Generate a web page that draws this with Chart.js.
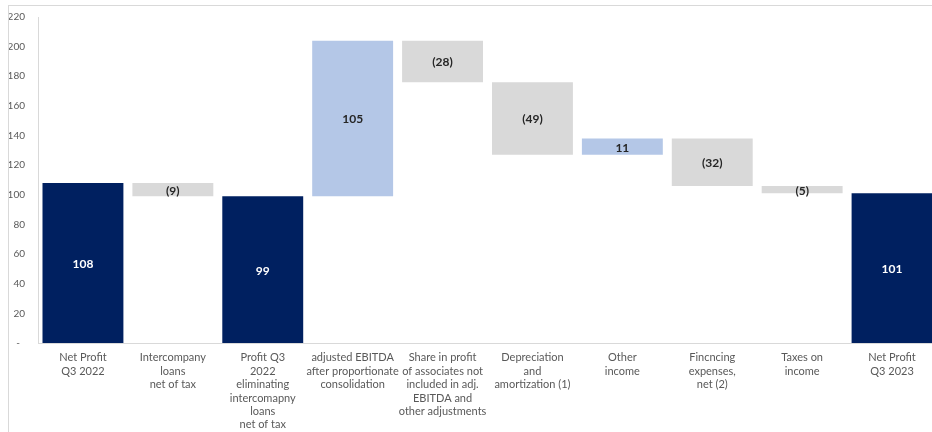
<!DOCTYPE html>
<html>
<head>
<meta charset="utf-8">
<script src="https://cdn.jsdelivr.net/npm/chart.js@4.4.0/dist/chart.umd.min.js"></script>
<style>
	html, body { margin: 0; padding: 0; background: #fff; overflow: hidden; }
	#frame {
		position: absolute;
		left: 8px;
		top: 5px;
		width: 930px;
		height: 426px;
		border-left: 1px solid #d9d9d9;
		border-top: 1px solid #d9d9d9;
	}
	#bridge { display: block; }
</style>
</head>
<body>
<div id="frame"><canvas id="bridge" width="930" height="426"></canvas></div>
<script>
var categories = [
	["Net Profit", "Q3 2022"],
	["Intercompany", "loans", "net of tax"],
	["Profit Q3", "2022", "eliminating", "intercomapny", "loans", "net of tax"],
	["adjusted EBITDA", "after proportionate", "consolidation"],
	["Share in profit", "of associates not", "included in adj.", "EBITDA and", "other adjustments"],
	["Depreciation", "and", "amortization (1)"],
	["Other", "income"],
	["Fincncing", "expenses,", "net (2)"],
	["Taxes on", "income"],
	["Net Profit", "Q3 2023"]
];
var changes = [108, -9, 99, 105, -28, -49, 11, -32, -5, 101];
var kinds = ["total", "step", "total", "step", "step", "step", "step", "step", "step", "total"];
var yTicks = [0, 20, 40, 60, 80, 100, 120, 140, 160, 180, 200, 220];

var colors = { total: '#002060', up: '#b4c7e7', down: '#d9d9d9' };

// turn the changes into floating [from, to] ranges
var ranges = [];
var fills = [];
var running = 0;
for (var i = 0; i < changes.length; i++) {
	if (kinds[i] == "total") {
		ranges.push([0, changes[i]]);
		running = changes[i];
		fills.push(colors.total);
	} else {
		ranges.push([running, running + changes[i]]);
		running += changes[i];
		fills.push(changes[i] < 0 ? colors.down : colors.up);
	}
}

function valueText(v) {
	return v < 0 ? "(" + Math.abs(v) + ")" : String(v);
}

// write each value in the middle of its bar
var barLabels = {
	id: 'barLabels',
	afterDatasetsDraw: function(chart) {
		var ctx = chart.ctx;
		var meta = chart.getDatasetMeta(0);
		ctx.save();
		ctx.font = 'bold 12px Lato';
		ctx.textAlign = 'center';
		ctx.textBaseline = 'middle';
		meta.data.forEach(function(bar, i) {
			ctx.fillStyle = kinds[i] == "total" ? '#ffffff' : '#262626';
			ctx.fillText(valueText(changes[i]), bar.x, (bar.y + bar.base) / 2 + 1);
		});
		ctx.restore();
	}
};

var bridge = document.getElementById("bridge").getContext('2d');
var bridgeChart = new Chart(bridge, {
	type: 'bar',
	data: {
		labels: categories,
		datasets: [{
			data: ranges,
			backgroundColor: fills,
			borderWidth: 0,
			categoryPercentage: 0.9,
			barPercentage: 1
		}]
	},
	options: {
		responsive: false,
		animation: false,
		layout: { padding: { top: 11, right: 2, left: 0, bottom: 0 } },
		plugins: {
			legend: { display: false },
			tooltip: { enabled: false }
		},
		scales: {
			x: {
				grid: { display: false },
				border: { display: true, color: '#d9d9d9' },
				ticks: {
					color: '#595959',
					font: { family: 'Lato', size: 11, lineHeight: 1.22 },
					padding: 0,
					maxRotation: 0,
					autoSkip: false
				},
				afterFit: function(scale) { scale.height = 89; }
			},
			y: {
				min: 0,
				max: 220,
				grid: { display: false },
				border: { display: true, color: '#d9d9d9' },
				afterBuildTicks: function(scale) {
					scale.ticks = yTicks.map(function(v) { return { value: v }; });
				},
				ticks: {
					color: '#595959',
					font: { family: 'Lato', size: 10 },
					padding: 5,
					callback: function(v) { return v == 0 ? '-  ' : v; }
				},
				afterFit: function(scale) { scale.width = 29; }
			}
		}
	},
	plugins: [barLabels]
});
</script>
</body>
</html>
